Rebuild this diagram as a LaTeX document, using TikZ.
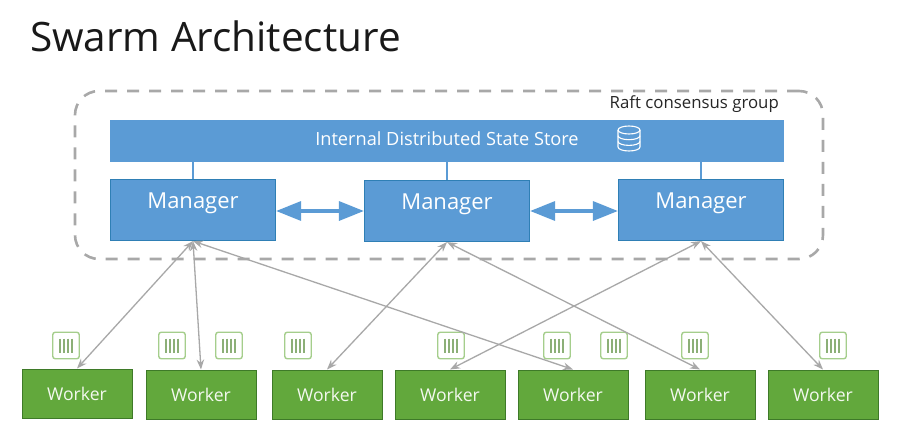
\documentclass[tikz,border=0pt]{standalone}
\usepackage{fontspec}
\setmainfont{Open Sans}
\usetikzlibrary{arrows.meta,calc}
\definecolor{blueA}{HTML}{5B9BD5}
\definecolor{blueB}{HTML}{2F7FB5}
\definecolor{greenA}{HTML}{62A83C}
\definecolor{greenB}{HTML}{3E7A28}
\definecolor{greenC}{HTML}{A5CE8C}
\definecolor{grayA}{HTML}{A8A8A8}
\tikzset{
  x=1pt,y=-1pt,
  managerbox/.style={draw=blueB,line width=1.2pt,fill=blueA,minimum width=165pt,minimum height=61pt,inner sep=0pt,
     label={[mgrtext]center:Manager}},
  mgrtext/.style={text=white,font=\fontsize{22}{26}\selectfont,yshift=6.5pt},
  workerbox/.style={draw=greenB,line width=1pt,fill=greenA,minimum width=110pt,minimum height=49pt,inner sep=0pt,
     text=white!92!greenA,font=\fontsize{17.6}{20}\selectfont},
  storebox/.style={fill=blueA,minimum width=674pt,minimum height=42pt,inner sep=0pt},
  storetext/.style={text=white,font=\fontsize{18.2}{22}\selectfont},
  groupbox/.style={draw=grayA,line width=2.6pt,dash pattern=on 12pt off 10pt,rounded corners=24pt,
     minimum width=748pt,minimum height=168pt,inner sep=0pt},
  imgicon/.style={draw=greenC,line width=1.4pt,rounded corners=2.5pt,fill=white,minimum size=26.5pt,inner sep=0pt,
     path picture={
       \foreach \d in {-6,-2,2,6}
         \draw[greenC!85!black,line width=1.3pt] ($(path picture bounding box.center)+(\d,-7)$) -- ++(0,14);
     }},
  link/.style={draw=grayA,line width=1.3pt,{Stealth[length=10pt,width=7.5pt]}-{Stealth[length=10pt,width=7.5pt]}},
  peer/.style={draw=blueA,line width=3.4pt,{Triangle[length=25pt,width=19pt]}-{Triangle[length=25pt,width=19pt]}},
  stem/.style={draw=blueA,line width=1.5pt},
  dbline/.style={draw=white,line width=1.1pt},
}
\begin{document}
\begin{tikzpicture}
\useasboundingbox (0,0) rectangle (900,436);
\fill[white] (0,0) rectangle (900,436);
\node[anchor=west,font=\fontsize{40.5}{46}\selectfont,text=black!90,inner sep=0pt] (title) at (30,36) {Swarm Architecture};
\node[groupbox] (group) at (449,175) {};
\node[anchor=east,font=\fontsize{16.8}{20}\selectfont,text=black!85,inner sep=0pt] (raft) at (779,104) {Raft consensus group};
\node[storebox] (store) at (447,141) {};
\node[storetext] (storelabel) at (447,138.5) {Internal Distributed State Store};
\node[managerbox] (m1) at (193,210) {};
\node[managerbox] (m2) at (447,211) {};
\node[managerbox] (m3) at (701,210) {};
\draw[stem] (m1.north) -- (m1.north |- store.south);
\draw[stem] (m2.north) -- (m2.north |- store.south);
\draw[stem] (m3.north) -- (m3.north |- store.south);
\draw[peer] (m2.west -| m1.east) -- (m2.west);
\draw[peer] (m2.east) -- (m2.east -| m3.west);
% database icon
\coordinate (db) at (629,138.5);
\draw[dbline] (db) ++(-11,-8.5) arc[start angle=180,end angle=-180,x radius=11,y radius=4];
\draw[dbline] (db) ++(-11,-8.5) -- ++(0,17) arc[start angle=180,end angle=0,x radius=11,y radius=4] -- ++(0,-17);
\draw[dbline] (db) ++(-11,-2.8) arc[start angle=180,end angle=0,x radius=11,y radius=4];
\draw[dbline] (db) ++(-11,2.9) arc[start angle=180,end angle=0,x radius=11,y radius=4];
% workers
\node[workerbox] (w1) at (77,393.5) {Worker};
\node[workerbox] (w2) at (201,394.5) {Worker};
\node[workerbox] (w3) at (327,394.5) {Worker};
\node[workerbox] (w4) at (450,394.5) {Worker};
\node[workerbox] (w5) at (573,394.5) {Worker};
\node[workerbox] (w6) at (700,394.5) {Worker};
\node[workerbox] (w7) at (823,394.5) {Worker};
% image icons
\node[imgicon] (i1) at (66,345.5) {};
\node[imgicon] (i2) at (172,345.5) {};
\node[imgicon] (i3) at (229,345.5) {};
\node[imgicon] (i4) at (298,345.5) {};
\node[imgicon] (i5) at (451,345.5) {};
\node[imgicon] (i6) at (557,345.5) {};
\node[imgicon] (i7) at (614,345.5) {};
\node[imgicon] (i8) at (695,345.5) {};
\node[imgicon] (i9) at (833,345.5) {};
% links
\draw[link] (m1.south) -- (w1.north);
\draw[link] (m1.south) -- (w2.north);
\draw[link] (m1.south) -- (w5.north);
\draw[link] (m2.south) -- (w3.north);
\draw[link] (m2.south) -- (w6.north);
\draw[link] (m3.south) -- (w4.north);
\draw[link] (m3.south) -- (w7.north);
\end{tikzpicture}
\end{document}
